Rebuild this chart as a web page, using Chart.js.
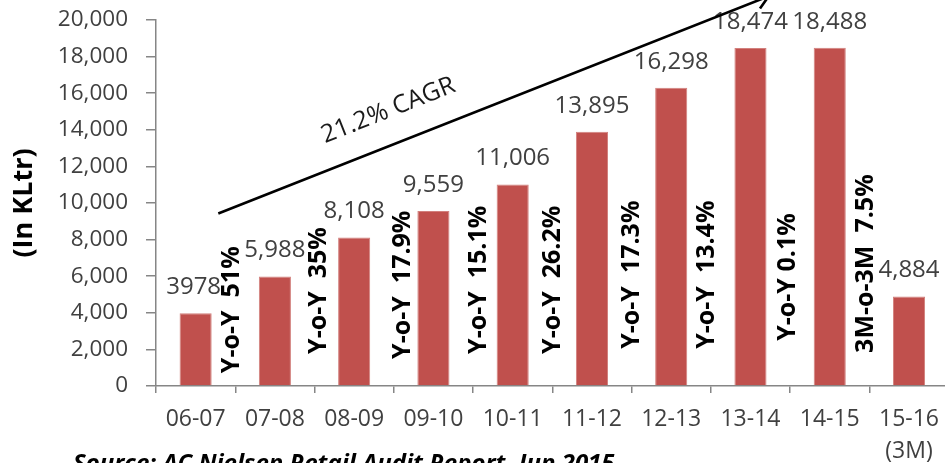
<!DOCTYPE html>
<html>
<head>
<meta charset="utf-8">
<script src="https://cdn.jsdelivr.net/npm/chart.js@4.4.1/dist/chart.umd.min.js"></script>
<style>
  html, body { margin: 0; padding: 0; background: #fff; overflow: hidden; }
  #wrap { position: relative; width: 949px; height: 463px; }
</style>
</head>
<body>
<div id="wrap"><canvas id="grafico"></canvas></div>
<script>
// =====================
// Datos
// =====================
const categorias = ["06-07", "07-08", "08-09", "09-10", "10-11", "11-12", "12-13", "13-14", "14-15", ["15-16", "(3M)"]];
const volumen = [3978, 5988, 8108, 9559, 11006, 13895, 16298, 18474, 18488, 4884];
const etiquetasVolumen = ["3978", "5,988", "8,108", "9,559", "11,006", "13,895", "16,298", "18,474", "18,488", "4,884"];
const crecimiento = ["Y-o-Y  51%", "Y-o-Y  35%", "Y-o-Y  17.9%", "Y-o-Y  15.1%", "Y-o-Y  26.2%",
                     "Y-o-Y  17.3%", "Y-o-Y  13.4%", "Y-o-Y 0.1%", "3M-o-3M  7.5%"];
const ticksY = [0, 2000, 4000, 6000, 8000, 10000, 12000, 14000, 16000, 18000, 20000];
const textoCagr = "21.2% CAGR";
const fuente = "Source: AC Nielsen Retail Audit Report, Jun 2015";

// colocación de las anotaciones (en unidades de los ejes)
const baseCrecimiento = [700, 1750, 1480, 1750, 1750, 2030, 2030, 2470, 1810];
const desplazCrecimiento = [-3, 4, 9, 6, 1, 0, -4, -2, -3];
const lineaCagr = { desde: [0.286, 9425], hasta: [7.23, 21300] };
const posTextoCagr = [2.43, 15050];

const fam = '"Open Sans", "Noto Sans", sans-serif';

// =====================
// Plugin de anotaciones
// =====================
const anotaciones = {
  id: "anotaciones",
  afterDatasetsDraw(chart) {
    const ctx = chart.ctx;
    const x = chart.scales.x, y = chart.scales.y;
    const meta = chart.getDatasetMeta(0);

    // etiquetas de valor
    ctx.save();
    ctx.font = "24px " + fam;
    ctx.fillStyle = "#404040";
    ctx.textAlign = "center";
    ctx.textBaseline = "middle";
    meta.data.forEach((bar, i) => {
      const dx = i === 0 ? -2 : 0;
      ctx.fillText(etiquetasVolumen[i], bar.x + dx, bar.y - 26);
    });
    ctx.restore();

    // crecimiento Y-o-Y (vertical)
    ctx.save();
    ctx.font = "bold 25px " + fam;
    ctx.fillStyle = "#000";
    ctx.textAlign = "left";
    ctx.textBaseline = "middle";
    crecimiento.forEach((txt, i) => {
      const px = (x.getPixelForValue(i) + x.getPixelForValue(i + 1)) / 2 + desplazCrecimiento[i];
      const py = y.getPixelForValue(baseCrecimiento[i]);
      ctx.save();
      ctx.translate(px, py);
      ctx.rotate(-Math.PI / 2);
      ctx.fillText(txt, 0, 0);
      ctx.restore();
    });
    ctx.restore();
  },
  afterDraw(chart) {
    const ctx = chart.ctx;
    const x = chart.scales.x, y = chart.scales.y;

    // línea CAGR con flecha
    const x1 = x.getPixelForValue(lineaCagr.desde[0]), y1 = y.getPixelForValue(lineaCagr.desde[1]);
    const x2 = x.getPixelForValue(lineaCagr.hasta[0]), y2 = y.getPixelForValue(lineaCagr.hasta[1]);
    const ang = Math.atan2(y2 - y1, x2 - x1);
    ctx.save();
    ctx.strokeStyle = "#000";
    ctx.lineWidth = 2.6;
    ctx.beginPath();
    ctx.moveTo(x1, y1);
    ctx.lineTo(x2, y2);
    const largo = 15, abre = 33 * Math.PI / 180;
    ctx.moveTo(x2, y2);
    ctx.lineTo(x2 - largo * Math.cos(ang - abre), y2 - largo * Math.sin(ang - abre));
    ctx.moveTo(x2, y2);
    ctx.lineTo(x2 - largo * Math.cos(ang + abre), y2 - largo * Math.sin(ang + abre));
    ctx.stroke();

    // texto CAGR
    ctx.translate(x.getPixelForValue(posTextoCagr[0]), y.getPixelForValue(posTextoCagr[1]));
    ctx.rotate(ang);
    ctx.font = "25px " + fam;
    ctx.fillStyle = "#1a1a1a";
    ctx.textAlign = "center";
    ctx.textBaseline = "middle";
    ctx.fillText(textoCagr, 0, 0);
    ctx.restore();

    // fuente
    ctx.save();
    ctx.font = "italic bold 24px " + fam;
    ctx.fillStyle = "#000";
    ctx.textAlign = "left";
    ctx.textBaseline = "alphabetic";
    ctx.fillText(fuente, 73, 471, 557);
    ctx.restore();
  }
};

// =====================
// Gráfico
// =====================
new Chart(document.getElementById("grafico"), {
  type: "bar",
  data: {
    labels: categorias,
    datasets: [{
      data: volumen,
      backgroundColor: "#c0504d",
      borderColor: "#d2807d",
      borderWidth: 1,
      categoryPercentage: 1,
      barPercentage: 0.405
    }]
  },
  options: {
    responsive: true,
    maintainAspectRatio: false,
    animation: false,
    layout: { padding: { top: 20, left: 0, right: 0, bottom: 0 } },
    plugins: {
      legend: { display: false },
      tooltip: { enabled: false }
    },
    scales: {
      x: {
        grid: { drawOnChartArea: false, drawTicks: true, tickLength: 7, color: "#868686", lineWidth: 1.5 },
        border: { color: "#868686", width: 1.5 },
        ticks: {
          color: "#404040",
          font: { family: fam, size: 23, lineHeight: 1.4 },
          padding: 10,
          maxRotation: 0,
          autoSkip: false
        },
        afterFit: (s) => { s.height = 77; }
      },
      y: {
        min: 0,
        max: 20000,
        afterBuildTicks: (s) => { s.ticks = ticksY.map(v => ({ value: v })); },
        grid: { drawOnChartArea: false, drawTicks: true, tickLength: 10, color: "#868686", lineWidth: 1.5 },
        border: { color: "#868686", width: 1.5 },
        ticks: {
          color: "#404040",
          font: { family: fam, size: 22.5 },
          padding: 18,
          callback: (v) => v.toLocaleString("en-US")
        },
        title: {
          display: true,
          text: "(In KLtr)",
          color: "#000",
          font: { family: fam, size: 27, weight: "bold" },
          padding: { top: 8, bottom: 0 }
        },
        afterFit: (s) => { s.width = 156; s.paddingTop = 0; s.paddingBottom = 0; }
      }
    }
  },
  plugins: [anotaciones]
});
</script>
</body>
</html>
